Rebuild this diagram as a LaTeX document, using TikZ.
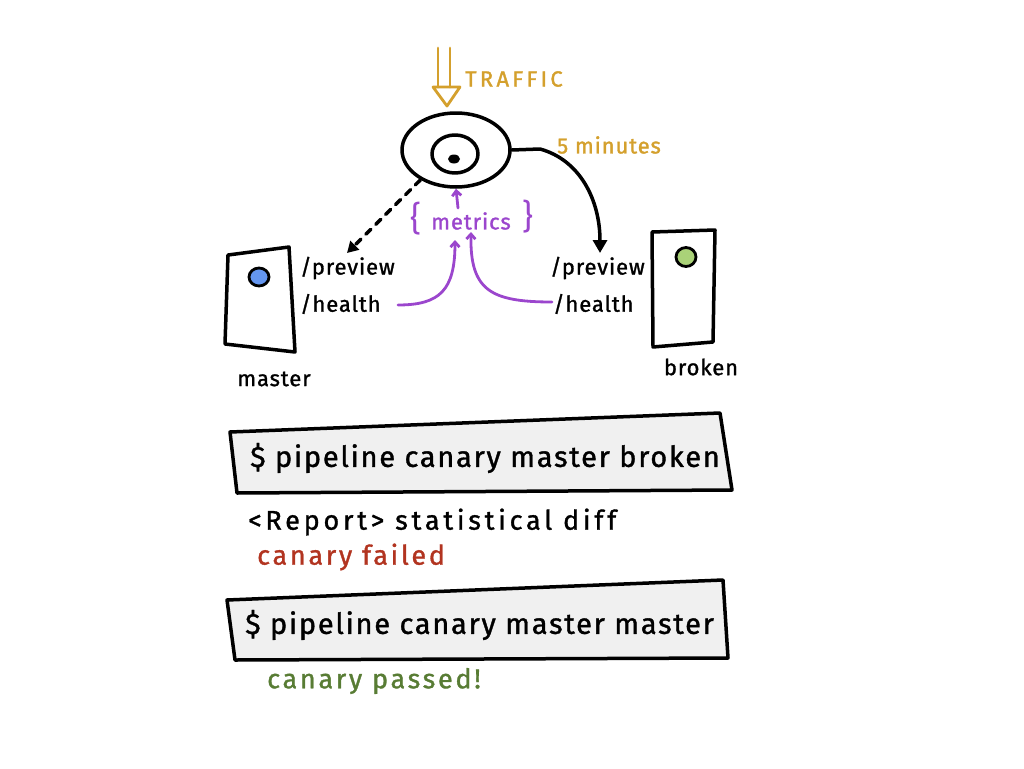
\documentclass[tikz,border=0pt]{standalone}
\usepackage{fontspec}
\setmainfont{Fira Sans}
\usetikzlibrary{arrows.meta,shapes.geometric}
\definecolor{gold}{RGB}{212,160,45}
\definecolor{purp}{RGB}{155,70,205}
\definecolor{fail}{RGB}{178,52,32}
\definecolor{pass}{RGB}{88,124,52}
\definecolor{boxgray}{RGB}{240,240,240}
\definecolor{blued}{RGB}{100,150,240}
\definecolor{greend}{RGB}{170,210,120}
\tikzset{
  ink/.style={line width=3.5pt, line cap=round, line join=round},
  lbl/.style={inner sep=0pt, anchor=west, font=\fontsize{22}{24}\selectfont\addfontfeatures{LetterSpace=4,FakeBold=1.2}},
  cmd/.style={inner sep=0pt, anchor=west, font=\fontsize{29}{32}\selectfont\addfontfeatures{LetterSpace=6,FakeBold=1.2}},
  note/.style={inner sep=0pt, anchor=west, font=\fontsize{27}{28}\selectfont\addfontfeatures{LetterSpace=10,FakeBold=1.2}},
}
\begin{document}
\begin{tikzpicture}[x=1pt,y=-1pt]
\useasboundingbox (0,0) rectangle (1024,768);
% traffic
\coordinate (t1) at (438,48); \coordinate (t2) at (450,48);
\draw[ink, gold, line width=2.8pt] (t1) -- (438,87) (t2) -- (450,87);
\draw[ink, gold, line width=2.8pt] (433,87) -- (460,87) -- (447,106) -- cycle;
\node[gold, inner sep=0pt, anchor=west, font=\fontsize{22}{24}\selectfont\addfontfeatures{LetterSpace=15,FakeBold=1.5}] (traffic) at (465,79) {TRAFFIC};
% load balancer
\node[ink, draw, ellipse, minimum width=108pt, minimum height=74pt, inner sep=0pt] (lb) at (456,150) {};
\node[ink, draw, ellipse, minimum width=46pt, minimum height=38pt, inner sep=0pt] (lbin) at (455,154) {};
\node[fill, ellipse, minimum width=12pt, minimum height=9pt, inner sep=0pt] (dot) at (454,159) {};
\node[gold, inner sep=0pt, anchor=west, font=\fontsize{22}{24}\selectfont\addfontfeatures{LetterSpace=4,FakeBold=1.5}] (five) at (557,145) {5 minutes};
% master server
\draw[ink] (228,255) -- (289,247) -- (295,352) -- (225,344) -- cycle;
\node[draw, fill=blued, line width=2.8pt, ellipse, minimum width=20pt, minimum height=18pt, inner sep=0pt] (mdot) at (259,277) {};
\node[lbl] (mpre) at (300,268) {/preview};
\node[lbl] (mhea) at (300,304) {/health};
\node[lbl, anchor=center] (mname) at (274,379) {master};
% broken server
\draw[ink] (652,232) -- (715,230) -- (713,342) -- (653,347) -- cycle;
\node[draw, fill=greend, line width=2.8pt, ellipse, minimum width=20pt, minimum height=19pt, inner sep=0pt] (bdot) at (686,257) {};
\node[lbl] (bpre) at (550,268) {/preview};
\node[lbl] (bhea) at (553,304) {/health};
\node[lbl, anchor=center] (bname) at (701,367) {broken};
% connectors
\draw[ink, dash pattern=on 7pt off 7pt, -{Triangle[length=11pt,width=12pt]}] (lb.220) -- (347,253);
\draw[ink, -{Triangle[length=13pt,width=14pt]}] (lb.east) -- (540,149) .. controls (580,160) and (600,200) .. (600,253);
% metrics
\node[purp, inner sep=0pt, font=\fontsize{22}{24}\selectfont\addfontfeatures{LetterSpace=4,FakeBold=1.2}] (met) at (471,221) {metrics};
\node[purp, inner sep=0pt, font=\fontsize{34}{36}\selectfont] (lbr) at (416,219) {\{};
\node[purp, inner sep=0pt, font=\fontsize{34}{36}\selectfont] (rbr) at (528,217) {\}};
\draw[ink, purp, line width=2.8pt, -{Straight Barb[length=5pt,width=9pt]}] (458,208) -- (lb.south);
\draw[ink, purp, line width=2.8pt, -{Straight Barb[length=5pt,width=9pt]}] (398,305) .. controls (440,305) and (455,290) .. (455,240);
\draw[ink, purp, line width=2.8pt, -{Straight Barb[length=5pt,width=9pt]}] (552,302) .. controls (490,302) and (470,290) .. (471,232);
% command box 1
\draw[ink, fill=boxgray] (230,432) -- (720,413) -- (732,490) -- (237,493) -- cycle;
\node[cmd] (c1) at (250,458) {\$ pipeline canary master broken};
\node[note, font=\fontsize{27}{28}\selectfont\addfontfeatures{LetterSpace=14,FakeBold=1.2}] (rep) at (248,522) {<Report> statistical diff};
\node[note, fail] (fail) at (257,557) {canary failed};
% command box 2
\draw[ink, fill=boxgray] (227,600) -- (723,580) -- (728,658) -- (235,660) -- cycle;
\node[cmd] (c2) at (245,625) {\$ pipeline canary master master};
\node[note, pass] (pass) at (267,681) {canary passed!};
\end{tikzpicture}
\end{document}
